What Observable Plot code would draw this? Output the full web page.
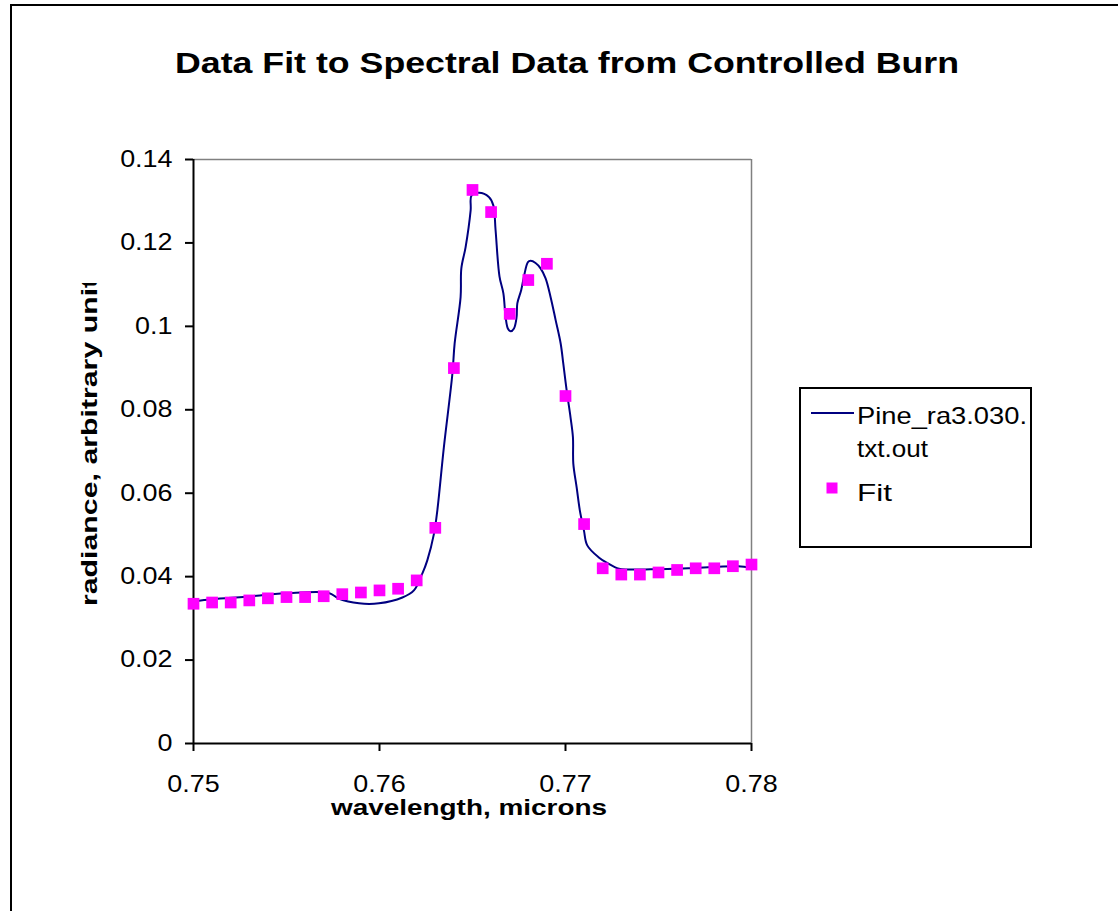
<!DOCTYPE html>
<html><head><meta charset="utf-8">
<script src="https://cdn.jsdelivr.net/npm/d3@7"></script>
<script src="https://cdn.jsdelivr.net/npm/@observablehq/plot@0.6"></script>
<style>html,body{margin:0;padding:0;background:#fff;overflow:hidden;} svg{display:block}</style>
</head><body><div id="chart"></div>
<script>
const fitWavelength = [0.750,0.751,0.752,0.753,0.754,0.755,0.756,0.757,0.758,0.759,0.760,0.761,0.762,0.763,0.764,0.765,0.766,0.767,0.768,0.769,0.770,0.771,0.772,0.773,0.774,0.775,0.776,0.777,0.778,0.779,0.780];
const fitRadiance = [0.0335,0.0338,0.0338,0.0343,0.0348,0.0351,0.0351,0.0353,0.0358,0.0362,0.0367,0.0371,0.0391,0.0517,0.0900,0.1327,0.1274,0.1030,0.1111,0.1150,0.0833,0.0526,0.0420,0.0405,0.0405,0.0410,0.0416,0.0420,0.0420,0.0425,0.0429];
const pineWavelength = [0.75000,0.75102,0.75281,0.75496,0.75727,0.75782,0.75890,0.75997,0.76123,0.76185,0.76230,0.76257,0.76293,0.76311,0.76346,0.76392,0.76404,0.76436,0.76440,0.76463,0.76490,0.76495,0.76535,0.76588,0.76612,0.76624,0.76645,0.76666,0.76678,0.76690,0.76705,0.76723,0.76737,0.76741,0.76762,0.76776,0.76798,0.76812,0.76839,0.76866,0.76893,0.76920,0.76947,0.76974,0.76988,0.77006,0.77027,0.77040,0.77042,0.77060,0.77077,0.77099,0.77117,0.77179,0.77224,0.77287,0.77338,0.77499,0.77660,0.77822,0.77929,0.78000];
const pineRadiance = [0.0341,0.0346,0.0352,0.0360,0.0361,0.0347,0.0336,0.0336,0.0350,0.0367,0.0407,0.0439,0.0503,0.0559,0.0710,0.0887,0.0959,0.1070,0.1139,0.1190,0.1278,0.1314,0.1320,0.1310,0.1290,0.1231,0.1120,0.1079,0.1022,0.0995,0.0988,0.0995,0.1022,0.1055,0.1087,0.1118,0.1154,0.1157,0.1152,0.1139,0.1115,0.1070,0.1015,0.0959,0.0911,0.0847,0.0782,0.0734,0.0671,0.0614,0.0559,0.0511,0.0475,0.0446,0.0433,0.0419,0.0417,0.0418,0.0420,0.0424,0.0425,0.0421];
const xTicks = [0.75,0.76,0.77,0.78];
const yTicks = [0,0.02,0.04,0.06,0.08,0.1,0.12,0.14];
const titleText = "Data Fit to Spectral Data from Controlled Burn";
const xLabel = "wavelength, microns";
const yLabel = "radiance, arbitrary units";
const legendLine1 = ["Pine_ra3.030.", "txt.out"];
const legendFit = "Fit";

const fit = fitWavelength.map((x, i) => ({x, y: fitRadiance[i]}));
const pine = pineWavelength.map((x, i) => ({x, y: pineRadiance[i]}));
const font = "'Liberation Sans', Arial, sans-serif";

const plot = Plot.plot({
  width: 1118, height: 911,
  marginLeft: 193, marginRight: 367, marginTop: 159, marginBottom: 168,
  style: {fontFamily: font, background: "#fff", color: "#000"},
  x: {domain: [0.75, 0.78]},
  y: {domain: [0, 0.14]},
  marks: [
    Plot.ruleY([0.14], {stroke: "#808080", strokeWidth: 1.5}),
    Plot.ruleX([0.78], {stroke: "#808080", strokeWidth: 1.5}),
    Plot.line(pine, {x: "x", y: "y", stroke: "#000080", strokeWidth: 2, curve: "catmull-rom"}),
    Plot.ruleX([0.75], {stroke: "#000", strokeWidth: 2}),
    Plot.ruleY([0], {stroke: "#000", strokeWidth: 2}),
    Plot.axisY(yTicks, {tickSize: 8, tickPadding: 13, fontSize: 23, tickFormat: d => String(d), label: null, stroke: "#000", strokeWidth: 2, fill: "#000"}),
    Plot.axisX(xTicks, {tickSize: 8, tickPadding: 24, fontSize: 23, tickFormat: d => String(d), label: null, stroke: "#000", strokeWidth: 2, fill: "#000"}),
    Plot.dot(fit, {x: "x", y: "y", symbol: "square", fill: "#ff00ff", r: 6.6})
  ]
});
document.getElementById("chart").append(plot);
const svg = d3.select(plot);

svg.selectAll('g[aria-label$="tick label"] text').each(function() {
  const l = this.getComputedTextLength();
  this.setAttribute("textLength", l * 1.17);
  this.setAttribute("lengthAdjust", "spacingAndGlyphs");
});

function addText(str, x, y, opts) {
  const t = svg.append("text").text(str)
    .attr("x", x).attr("y", y)
    .attr("font-family", font)
    .attr("font-size", opts.size)
    .attr("font-weight", opts.bold ? "bold" : "normal")
    .attr("text-anchor", opts.anchor || "start")
    .attr("fill", "#000");
  if (opts.length) t.attr("textLength", opts.length).attr("lengthAdjust", "spacingAndGlyphs");
  if (opts.transform) t.attr("transform", opts.transform);
  return t;
}

// outer chart border
svg.append("rect").attr("x", 11).attr("y", 5).attr("width", 1300).attr("height", 1100)
  .attr("fill", "none").attr("stroke", "#000").attr("stroke-width", 2);

addText(titleText, 567, 73, {size: 30, bold: true, anchor: "middle", length: 784});
addText(xLabel, 469, 815, {size: 22, bold: true, anchor: "middle", length: 276});

const clip = svg.append("defs").append("clipPath").attr("id", "yclip");
clip.append("rect").attr("x", 0).attr("y", 283).attr("width", 190).attr("height", 700);
svg.append("g").attr("clip-path", "url(#yclip)")
  .append("text").text(yLabel)
  .attr("transform", "translate(97,606) rotate(-90)")
  .attr("text-anchor", "start")
  .attr("font-family", font).attr("font-size", 22).attr("font-weight", "bold")
  .attr("fill", "#000")
  .attr("textLength", 345).attr("lengthAdjust", "spacingAndGlyphs");

// legend
const lg = svg.append("g");
lg.append("rect").attr("x", 800).attr("y", 388).attr("width", 231).attr("height", 159)
  .attr("fill", "#fff").attr("stroke", "#000").attr("stroke-width", 2);
lg.append("line").attr("x1", 811).attr("x2", 854).attr("y1", 413).attr("y2", 413)
  .attr("stroke", "#000080").attr("stroke-width", 2);
lg.append("rect").attr("x", 826.5).attr("y", 482.5).attr("width", 11).attr("height", 11).attr("fill", "#ff00ff");
addText(legendLine1[0], 857, 424, {size: 24, length: 170});
addText(legendLine1[1], 857, 457, {size: 24, length: 71});
addText(legendFit, 857, 501, {size: 24, length: 35});
</script></body></html>
